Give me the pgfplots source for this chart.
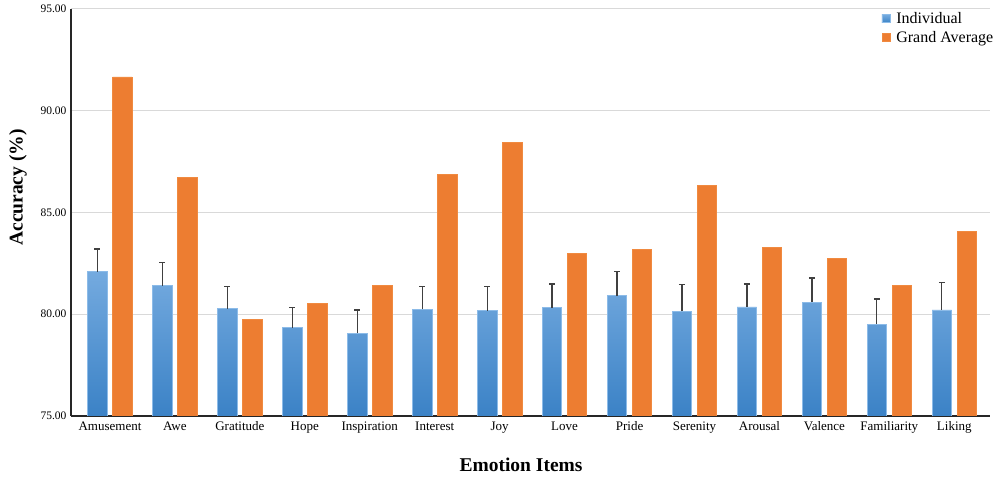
\documentclass[border=0pt]{standalone}
\usepackage{pgfplots}
\pgfplotsset{compat=1.18}
\usepackage{fontspec}
\setmainfont{Liberation Serif}
\definecolor{bluetop}{HTML}{74AADF}
\definecolor{bluebot}{HTML}{3B82C6}
\definecolor{blueedge}{HTML}{8CBBE8}
\definecolor{orangefill}{HTML}{ED7D31}
\definecolor{orangeedge}{HTML}{F08A40}
\definecolor{gridgray}{HTML}{D9D9D9}
\definecolor{axisdark}{HTML}{262626}
\definecolor{errgray}{HTML}{404040}
\begin{document}
\begin{tikzpicture}
\path[use as bounding box] (0,0) rectangle (1000bp,479bp);
\begin{axis}[
  at={(71bp,63bp)}, anchor=south west,
  scale only axis, width=919bp, height=407bp,
  xmin=-0.6, xmax=13.55, ymin=75, ymax=95,
  ybar=5.5bp, bar width=19.5bp,
  xtick={0,...,13},
  xticklabels={Amusement,Awe,Gratitude,Hope,Inspiration,Interest,Joy,Love,Pride,Serenity,Arousal,Valence,Familiarity,Liking},
  ytick={75,80,85,90,95},
  /pgf/number format/fixed,
  /pgf/number format/fixed zerofill,
  /pgf/number format/precision=2,
  /pgf/number format/assume math mode=true,
  yticklabel style={font=\fontsize{11.5bp}{13bp}\selectfont, xshift=-1bp},
  xticklabel style={font=\fontsize{13bp}{15bp}\selectfont, yshift=-2bp},
  major tick length=0pt,
  ymajorgrids, grid style={gridgray, line width=1bp},
  axis x line*=bottom, axis y line*=left,
  axis line style={axisdark, line width=2bp},
  x axis line style={-}, y axis line style={-},
  xlabel={\textbf{Emotion Items}},
  ylabel={\textbf{Accuracy (\%)}},
  xlabel style={font=\fontsize{19.5bp}{22bp}\selectfont, at={(axis description cs:0.4897,-0.121)}, anchor=center},
  ylabel style={font=\fontsize{19.5bp}{22bp}\selectfont, at={(axis description cs:-0.0577,0.5614)}, anchor=center},
  legend style={at={(axis description cs:1.006,0.997)}, anchor=north east, draw=none, fill=none,
    font=\fontsize{16bp}{18bp}\selectfont, row sep=2bp, inner sep=0pt,
    /tikz/every odd column/.append style={column sep=4bp}},
  legend cell align=left,
  legend image code/.code={\path[#1] (0bp,-4bp) rectangle (8bp,4bp);},
]
\addplot[top color=bluetop, bottom color=bluebot, draw=blueedge, line width=0.8bp,
  error bars/.cd, y dir=plus, y explicit, error mark=|,
  error bar style={errgray, line width=1.3bp},
  error mark options={errgray, line width=1.3bp, mark size=3bp}]
  table[x=x, y=y, y error=e] {
x y e
0 82.09 1.11
1 81.40 1.13
2 80.27 1.10
3 79.34 0.98
4 79.06 1.15
5 80.24 1.12
6 80.18 1.18
7 80.32 1.17
8 80.91 1.20
9 80.14 1.33
10 80.36 1.13
11 80.59 1.19
12 79.52 1.23
13 80.21 1.34
};
\addlegendentry{Individual}
\addplot[fill=orangefill, draw=orangeedge, line width=0.8bp]
  table[x=x, y=y] {
x y
0 91.66
1 86.73
2 79.75
3 80.52
4 81.40
5 86.88
6 88.43
7 82.98
8 83.19
9 86.32
10 83.29
11 82.73
12 81.40
13 84.08
};
\addlegendentry{Grand Average}
\end{axis}
\end{tikzpicture}
\end{document}
